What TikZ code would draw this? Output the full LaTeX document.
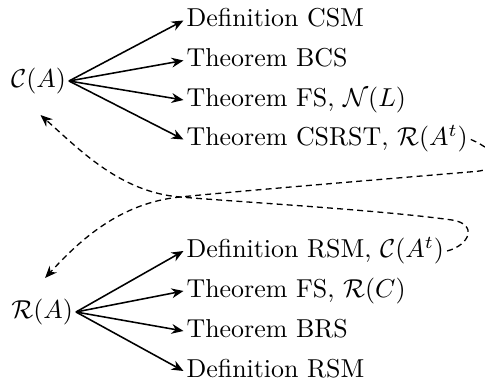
\documentclass[tikz,border=0pt]{standalone}
\usetikzlibrary{arrows.meta}
\begin{document}
\begin{tikzpicture}[x=0.3861pt, y=-0.3861pt,
  lab/.style={anchor=west, inner sep=1pt, text height=7.5pt, text depth=2.5pt},
  src/.style={anchor=east, inner sep=1pt, text height=7.5pt, text depth=2.5pt},
  arr/.style={-{Stealth[length=4.6pt,width=3.8pt]}, line width=0.6pt},
  darr/.style={arr, line width=0.5pt, dash pattern=on 2.3pt off 1.6pt}]
\useasboundingbox (0,0) rectangle (485,385);
% upper tree
\node[src] (CA) at (69,81) {$\mathcal{C}(A)$};
\node[lab] (dcsm) at (183.5,20.5) {Definition CSM};
\node[lab] (tbcs) at (183.5,60.5) {Theorem BCS};
\node[lab] (tfsn) at (183.5,100) {Theorem FS, $\mathcal{N}(L)$};
\node[lab] (tcsrst) at (183.5,139.5) {Theorem CSRST, $\mathcal{R}(A^t)$};
\foreach \t in {dcsm,tbcs,tfsn,tcsrst} \draw[arr] (CA.east) -- (\t.west);
% lower tree
\node[src] (RA) at (76,312) {$\mathcal{R}(A)$};
\node[lab] (drsmc) at (183.5,251) {Definition RSM, $\mathcal{C}(A^t)$};
\node[lab] (tfsr) at (183.5,291) {Theorem FS, $\mathcal{R}(C)$};
\node[lab] (tbrs) at (183.5,331) {Theorem BRS};
\node[lab] (drsm) at (183.5,371) {Definition RSM};
\foreach \t in {drsmc,tfsr,tbrs,drsm} \draw[arr] (RA.east) -- (\t.west);
% dashed crossing connectors
\draw[darr] (tcsrst.east) .. controls (500,152) and (505,169) .. (475,171.5)
  .. controls (380,179.5) and (240,191) .. (180,197)
  .. controls (120,203) and (80,240) .. ([shift={(3,-18)}]RA.north);
\draw[darr] (drsmc.east) .. controls (470,245) and (478,224) .. (452,220)
  .. controls (380,210) and (240,202) .. (180,197)
  .. controls (120,192) and (80,150) .. ([shift={(2,18)}]CA.south);
\end{tikzpicture}
\end{document}
